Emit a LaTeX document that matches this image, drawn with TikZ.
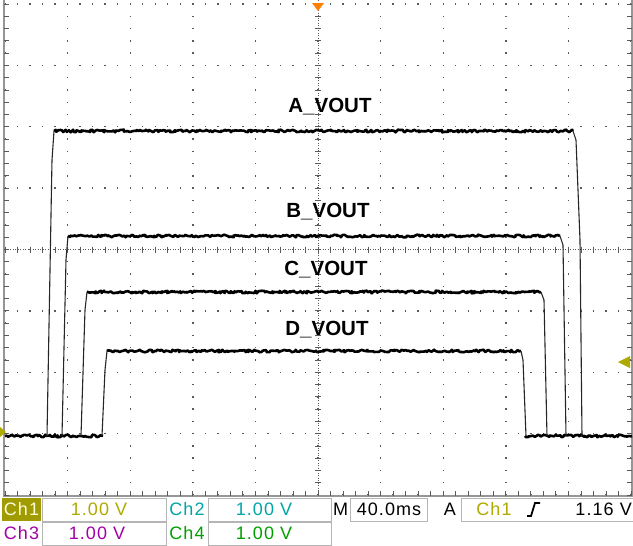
\documentclass[tikz,border=0pt]{standalone}
\usepackage{fontspec}
\setmainfont{Liberation Sans}
\newfontfamily\readfont[LetterSpace=6.0]{Liberation Sans}
\usetikzlibrary{decorations.pathmorphing}
\definecolor{olv}{RGB}{175,170,0}
\definecolor{olvbg}{RGB}{160,155,0}
\definecolor{tealc}{RGB}{0,165,165}
\definecolor{purp}{RGB}{165,0,165}
\definecolor{grn}{RGB}{0,160,0}
\definecolor{orng}{RGB}{255,128,0}
\definecolor{dotc}{RGB}{90,90,90}
\definecolor{brd}{RGB}{150,150,150}
\begin{document}
\begin{tikzpicture}[x=1pt,y=-1pt,
  flat/.style={line width=2.6pt, line join=round, decorate, decoration={random steps, segment length=1.5pt, amplitude=1.3pt}},
  edge/.style={line width=1.1pt, black!85},
  lab/.style={font=\fontsize{20.5}{22}\selectfont\bfseries, inner sep=0pt},
  rd/.style={font=\readfont\fontsize{18}{20}\selectfont, inner sep=0pt},
  box/.style={draw=brd!70, line width=0.8pt, fill=white},
  gdot/.style={fill=dotc},
  tick/.style={dotc, line width=0.8pt}]
\useasboundingbox (0,0) rectangle (633,546);
\fill[white] (0,0) rectangle (633,546);
\pgfmathsetseed{7}
% grid dots
\foreach \j in {0,...,8}{\foreach \i in {0,...,50}{\fill[gdot] ({5+\i*12.52-0.7},{4+\j*61.375-0.7}) rectangle ++(1.4,1.4);}}
\foreach \i in {0,...,10}{\foreach \j in {0,...,40}{\fill[gdot] ({5+\i*62.6-0.7},{4+\j*12.275-0.7}) rectangle ++(1.4,1.4);}}
% center axes
\draw[dotc, line width=1pt, dash pattern=on 1pt off 1.5pt] (318,0) -- (318,495);
\draw[dotc, line width=1pt, dash pattern=on 1pt off 1.5pt] (5,249.5) -- (631,249.5);
\foreach \j in {0,...,40} \draw[tick] (315,{4+\j*12.275}) -- (321,{4+\j*12.275});
\foreach \i in {0,...,50} \draw[tick] ({5+\i*12.52},246.5) -- ({5+\i*12.52},252.5);
% borders
\draw[brd, line width=2pt] (4,0) -- (4,496);
\draw[brd, line width=2pt] (631.5,0) -- (631.5,496);
\draw[brd, line width=2pt] (3,496) -- (632.5,496);
\foreach \j in {0,...,40} {\draw[tick] (4,{4+\j*12.275}) -- (9,{4+\j*12.275}); \draw[tick] (627,{4+\j*12.275}) -- (631.5,{4+\j*12.275});}
\foreach \i in {0,...,50} \draw[tick] ({5+\i*12.52},491) -- ({5+\i*12.52},496);
% traces
\draw[flat] (5,436) -- (103,436);
\draw[flat] (525,436) -- (632,436);
\draw[edge] (47,436) -- (52,160) -- (54,131);
\draw[flat] (54,131) -- (573,131);
\draw[edge] (573,131) -- (576,140) -- (580,240) -- (582,436);
\draw[edge] (62,436) -- (66,260) -- (68,236);
\draw[flat] (68,236) -- (560,236);
\draw[edge] (560,236) -- (563,245) -- (566,436);
\draw[edge] (81,436) -- (85,310) -- (87,292);
\draw[flat] (87,292) -- (541,292);
\draw[edge] (541,292) -- (544,300) -- (547,436);
\draw[edge] (102,436) -- (105,370) -- (107,351);
\draw[flat] (107,351) -- (521,351);
\draw[edge] (521,351) -- (523,360) -- (526,436);
% markers
\fill[orng] (312,3) -- (324,3) -- (318,11) -- cycle;
\fill[olv] (630,356) -- (630,368) -- (618,362) -- cycle;
\fill[olv] (0,427) -- (0,437) -- (6,432) -- cycle;
% labels
\node[lab] (la) at (330,107) {A\_VOUT};
\node[lab] (lb) at (328,212) {B\_VOUT};
\node[lab] (lc) at (326,270) {C\_VOUT};
\node[lab] (ld) at (327,330) {D\_VOUT};
% readout panel
\fill[olvbg] (2,498) rectangle (41,521);
\node[rd, text=white!85!yellow] (ch1) at (21.5,509.5) {Ch1};
\draw[box] (42.5,498) rectangle (166,521);
\node[rd, text=olv] (v1) at (99,509.5) {1.00 V};
\node[rd, text=tealc] (ch2) at (187,509.5) {Ch2};
\draw[box] (208,498) rectangle (331,521);
\node[rd, text=tealc] (v2) at (264,509.5) {1.00 V};
\node[rd] (m) at (340.5,509.5) {M};
\draw[box] (350,498) rectangle (427,521);
\node[rd] (tb) at (389,509.5) {40.0ms};
\node[rd] (a) at (450,509.5) {A};
\draw[box] (461,498) rectangle (633,521);
\node[rd, text=olv] (tch) at (494,509.5) {Ch1};
\draw[line width=1.8pt] (527,516) -- (531,516) -- (535,503) -- (540,503);
\node[rd, anchor=east] (tl) at (632,509.5) {1.16 V};
\node[rd, text=purp] (ch3) at (21.5,533.5) {Ch3};
\draw[box] (42.5,522) rectangle (166,545);
\node[rd, text=purp] (v3) at (97,533.5) {1.00 V};
\node[rd, text=grn] (ch4) at (187,533.5) {Ch4};
\draw[box] (208,522) rectangle (331,545);
\node[rd, text=grn] (v4) at (264,533.5) {1.00 V};
\end{tikzpicture}
\end{document}
